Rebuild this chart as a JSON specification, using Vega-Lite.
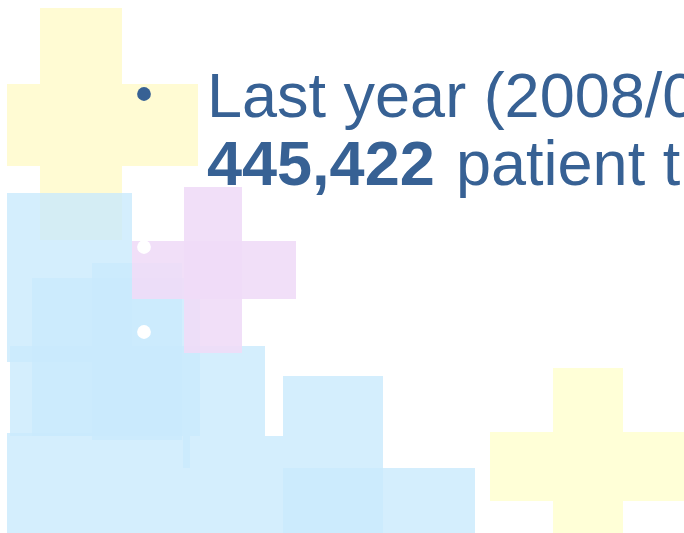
{
  "$schema": "https://vega.github.io/schema/vega-lite/v6.json",
  "width": 684,
  "height": 533,
  "padding": 0,
  "autosize": "none",
  "background": "white",
  "config": {"view": {"stroke": null}, "axis": {"disable": true}},
  "resolve": {"scale": {"color": "independent"}},
  "datasets": {
    "shapes": [
      {"part": "yellow cross 1 vertical", "kind": "yellow1", "x0": 40, "x1": 122, "y0": 8, "y1": 240},
      {"part": "yellow cross 1 horizontal", "kind": "yellow1", "x0": 7, "x1": 198, "y0": 84, "y1": 166},
      {"part": "yellow cross 2 vertical", "kind": "yellow2", "x0": 553, "x1": 623, "y0": 368, "y1": 533},
      {"part": "yellow cross 2 horizontal", "kind": "yellow2", "x0": 490, "x1": 684, "y0": 432, "y1": 501}
    ],
    "blue": [
      {"part": "A", "x0": 7, "x1": 132, "y0": 193, "y1": 362},
      {"part": "B", "x0": 92, "x1": 182, "y0": 263, "y1": 440},
      {"part": "C", "x0": 32, "x1": 200, "y0": 278, "y1": 436},
      {"part": "D", "x0": 10, "x1": 265, "y0": 346, "y1": 436},
      {"part": "E", "x0": 283, "x1": 383, "y0": 376, "y1": 533},
      {"part": "F", "x0": 357, "x1": 475, "y0": 468, "y1": 533},
      {"part": "G", "x0": 7, "x1": 92, "y0": 433, "y1": 533},
      {"part": "H", "x0": 92, "x1": 190, "y0": 436, "y1": 518},
      {"part": "I", "x0": 183, "x1": 283, "y0": 436, "y1": 468},
      {"part": "J", "x0": 190, "x1": 357, "y0": 468, "y1": 533},
      {"part": "K", "x0": 92, "x1": 190, "y0": 518, "y1": 533}
    ],
    "pink": [
      {"part": "pink cross vertical", "x0": 184, "x1": 242, "y0": 187, "y1": 353},
      {"part": "pink cross horizontal", "x0": 132, "x1": 296, "y0": 241, "y1": 299}
    ],
    "bullets": [
      {"bullet": "line 1", "kind": "text", "x": 144, "y": 94},
      {"bullet": "hidden 2", "kind": "white", "x": 144, "y": 247},
      {"bullet": "hidden 3", "kind": "white", "x": 144, "y": 332}
    ],
    "texts": [
      {"segment": "Last year (2008/09)", "weight": "normal", "x": 207, "y": 117},
      {"segment": "445,422", "weight": "bold", "x": 207, "y": 185},
      {"segment": "patient transport", "weight": "normal", "x": 456, "y": 185}
    ]
  },
  "layer": [
    {
      "data": {"name": "shapes"},
      "mark": {"type": "rect", "clip": true},
      "encoding": {
        "x": {"field": "x0", "type": "quantitative", "scale": {"domain": [0, 684], "nice": false, "zero": false}},
        "x2": {"field": "x1"},
        "y": {"field": "y0", "type": "quantitative", "scale": {"domain": [0, 533], "reverse": true, "nice": false, "zero": false}},
        "y2": {"field": "y1"},
        "color": {"field": "kind", "type": "nominal", "legend": null, "scale": {"domain": ["yellow1", "yellow2"], "range": ["#fffbd3", "#ffffd7"]}}
      }
    },
    {
      "data": {"name": "blue"},
      "mark": {"type": "rect", "clip": true, "color": "#c9eafd", "opacity": 0.8},
      "encoding": {
        "x": {"field": "x0", "type": "quantitative"},
        "x2": {"field": "x1"},
        "y": {"field": "y0", "type": "quantitative"},
        "y2": {"field": "y1"}
      }
    },
    {
      "data": {"name": "pink"},
      "mark": {"type": "rect", "clip": true, "color": "#efdbf7", "opacity": 0.9},
      "encoding": {
        "x": {"field": "x0", "type": "quantitative"},
        "x2": {"field": "x1"},
        "y": {"field": "y0", "type": "quantitative"},
        "y2": {"field": "y1"}
      }
    },
    {
      "data": {"name": "bullets"},
      "mark": {"type": "circle", "opacity": 1, "size": 190},
      "encoding": {
        "x": {"field": "x", "type": "quantitative"},
        "y": {"field": "y", "type": "quantitative"},
        "color": {"field": "kind", "type": "nominal", "legend": null, "scale": {"domain": ["text", "white"], "range": ["#376194", "#ffffff"]}}
      }
    },
    {
      "data": {"name": "texts"},
      "transform": [{"filter": "datum.weight == 'normal'"}],
      "mark": {"type": "text", "clip": true, "align": "left", "baseline": "alphabetic", "font": "Liberation Sans", "fontSize": 63, "color": "#376194"},
      "encoding": {
        "x": {"field": "x", "type": "quantitative"},
        "y": {"field": "y", "type": "quantitative"},
        "text": {"field": "segment"}
      }
    },
    {
      "data": {"name": "texts"},
      "transform": [{"filter": "datum.weight == 'bold'"}],
      "mark": {"type": "text", "clip": true, "align": "left", "baseline": "alphabetic", "font": "Liberation Sans", "fontSize": 63, "fontWeight": "bold", "color": "#376194"},
      "encoding": {
        "x": {"field": "x", "type": "quantitative"},
        "y": {"field": "y", "type": "quantitative"},
        "text": {"field": "segment"}
      }
    }
  ]
}
